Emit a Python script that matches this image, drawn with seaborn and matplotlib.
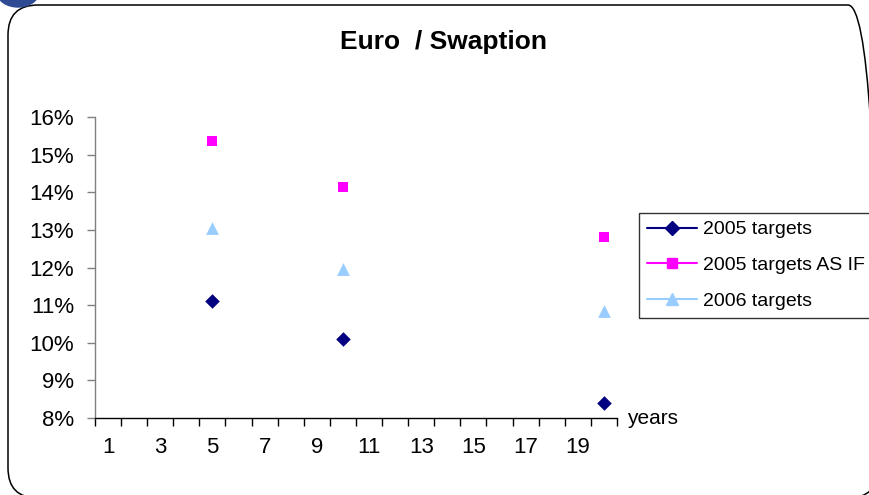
import matplotlib
matplotlib.use("Agg")
import matplotlib.pyplot as plt
import seaborn as sns
from matplotlib.lines import Line2D
from matplotlib.patches import FancyBboxPatch, Ellipse
from matplotlib.transforms import IdentityTransform

# data (percent)
years = [5, 10, 20]
targets_2005 = [11.1, 10.1, 8.4]
targets_2005_as_if = [15.35, 14.15, 12.8]
targets_2006 = [13.05, 11.95, 10.85]

series_names = ["2005 targets", "2005 targets AS IF", "2006 targets"]
categories = list(range(1, 21))
x_labels = [1, 3, 5, 7, 9, 11, 13, 15, 17, 19]
y_ticks = [8, 9, 10, 11, 12, 13, 14, 15, 16]

sns.set_style("white")
plt.rcParams["font.family"] = ["Liberation Sans", "DejaVu Sans"]
plt.rcParams["text.color"] = "black"
plt.rcParams["xtick.labelcolor"] = "black"
plt.rcParams["ytick.labelcolor"] = "black"

W, H = 870, 495
fig = plt.figure(figsize=(W / 100, H / 100), dpi=100)
ax = fig.add_axes([95 / W, 1 - 418 / H, 522 / W, 301 / H])

styles = [
    ("D", 55, "#000080"),
    ("s", 55, "#FF00FF"),
    ("^", 85, "#99CCFF"),
]
for vals, (mk, size, col) in zip([targets_2005, targets_2005_as_if, targets_2006], styles):
    sns.scatterplot(x=years, y=vals, marker=mk, s=size, color=col, linewidth=0, ax=ax)

# category axis: ticks between categories, labels on every other one
ax.set_xlim(categories[0] - 0.5, categories[-1] + 0.5)
ax.set_xticks([c - 0.5 for c in categories] + [categories[-1] + 0.5])
ax.set_xticklabels([])
ax.set_xticks(x_labels, minor=True)
ax.set_xticklabels([str(v) for v in x_labels], minor=True)
ax.tick_params(axis="x", which="major", bottom=True, length=6, width=1, direction="out", color="black")
ax.tick_params(axis="x", which="minor", bottom=True, length=0, pad=14, labelsize=16)

ax.set_ylim(y_ticks[0], y_ticks[-1])
ax.set_yticks(y_ticks)
ax.set_yticklabels([f"{v}%" for v in y_ticks])
ax.tick_params(axis="y", left=True, length=6, width=1, direction="out", color="#808080", pad=9, labelsize=16)

for s in ["top", "right"]:
    ax.spines[s].set_visible(False)
ax.spines["left"].set_color("#808080")
ax.spines["bottom"].set_color("black")
ax.spines["left"].set_linewidth(1)
ax.spines["bottom"].set_linewidth(1)

ax.annotate("years", xy=(1, 0), xycoords="axes fraction", xytext=(7, 0),
            textcoords="offset points", ha="left", va="center", fontsize=15)

fig.text(443 / W, 1 - 42 / H, "Euro  / Swaption", ha="center", va="center",
         fontsize=19, fontweight="bold")

handles = [Line2D([0], [0], color=col, marker=mk, markersize=(size ** 0.5), lw=1.5)
           for mk, size, col in styles]
leg = fig.legend(handles, series_names, loc="upper left",
                 bbox_to_anchor=(639 / W, 1 - 213 / H), bbox_transform=fig.transFigure,
                 borderaxespad=0, fontsize=14, frameon=True, fancybox=False,
                 handlelength=2.6, handletextpad=0.3, labelspacing=0.93, borderpad=0.4)
leg.get_frame().set_edgecolor("black")
leg.get_frame().set_linewidth(1)

# rounded outer frame and the blue corner piece
frame = FancyBboxPatch((8, -3), 870, 493, boxstyle="round,pad=0,rounding_size=30",
                       transform=IdentityTransform(), facecolor="none",
                       edgecolor="black", linewidth=1.1)
fig.add_artist(frame)
blob = Ellipse((18, H + 8), 42, 30, transform=IdentityTransform(), color="#2E4B94")
fig.add_artist(blob)

fig.savefig("out.png", dpi=100)
